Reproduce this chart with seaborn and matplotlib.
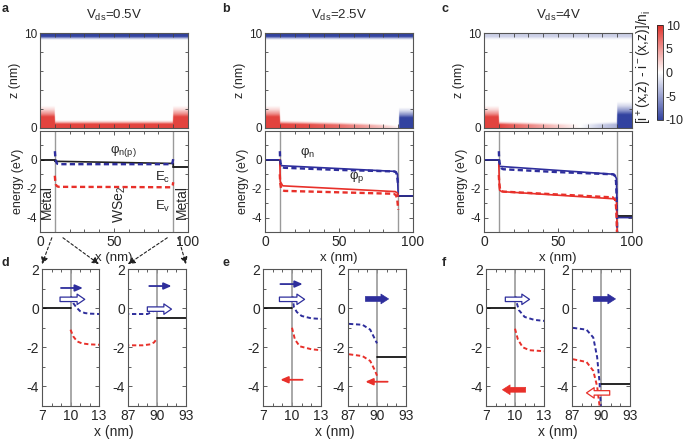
import numpy as np
import matplotlib
matplotlib.use("Agg")
import matplotlib.pyplot as plt
from matplotlib.colors import LinearSegmentedColormap
from matplotlib.patches import ConnectionPatch
from matplotlib.ticker import MultipleLocator
import seaborn as sns

sns.set_style("ticks")
plt.rcParams['font.family'] = ['Liberation Sans', 'DejaVu Sans']
plt.rcParams['mathtext.fontset'] = 'custom'
plt.rcParams['mathtext.rm'] = 'Liberation Sans'
plt.rcParams['mathtext.it'] = 'Liberation Sans:italic'
plt.rcParams['axes.unicode_minus'] = False

W, H = 685, 440
BLUE = '#2e2e9c'
RED = '#e8302a'
GRAY = '#9a9a9a'

# ---- heatmap (charge density) data: bottom layer along x, top layer constant
hm_x = [0, 9.9, 10.1, 30, 50, 65, 78, 89.9, 90.1, 100]
a_bot_amp = [9, 9, 9, 9, 9, 9, 9, 9, 9, 9]
a_bot_dep = [1.3, 1.3, 0.45, 0.45, 0.45, 0.45, 0.45, 0.45, 1.3, 1.3]
a_top_amp, a_top_dep = -10, 0.4
b_bot_amp = [9, 9, 9, 8.5, 7, 5, 3, 0.5, -10, -10]
b_bot_dep = [1.3, 1.3, 0.45, 0.4, 0.35, 0.3, 0.25, 0.15, 1.2, 1.2]
b_top_amp, b_top_dep = -10, 0.4
c_bot_amp = [9, 9, 9, 6, 2.5, 0, -2.5, -4, -10, -10]
c_bot_dep = [1.3, 1.3, 0.4, 0.35, 0.3, 0.3, 0.35, 0.4, 1.55, 1.55]
c_top_amp, c_top_dep = -2.5, 0.4
# fall-off shape of the layers (distance/depth -> weight)
fall_r = [0, 0.9, 1.15, 1.5, 1.8]
fall_w = [1, 1, 0.6, 0.2, 0]

# ---- energy band data (eV)
# panel a, Vds=0.5V
a_ec_x = [10.05, 10.3, 10.6, 11, 11.5, 12, 13, 50, 87, 89, 89.5, 89.8, 90]
a_ec_y = [0.6, 0.25, 0.05, -0.15, -0.25, -0.28, -0.3, -0.3, -0.3, -0.3, -0.2, -0.05, 0.05]
a_ev_x = [10, 10.3, 10.7, 11.2, 12, 13, 50, 87, 88.5, 89.3, 89.7, 90]
a_ev_y = [-1.1, -1.45, -1.7, -1.8, -1.85, -1.87, -1.88, -1.9, -1.9, -1.85, -1.75, -1.55]
a_phi_x = [10, 10, 90, 90]
a_phi_y = [0, -0.1, -0.25, -0.5]
a_metal_l, a_metal_r = 0.0, -0.5
# panel b, Vds=2.5V
b_ec_x = [10.05, 10.2, 10.5, 11, 12, 13, 50, 87, 88.5, 89.3, 89.7, 90]
b_ec_y = [0.6, 0.05, -0.2, -0.4, -0.52, -0.55, -0.7, -0.8, -0.85, -1.1, -1.5, -1.8]
b_ev_x = [10, 10.3, 10.8, 12, 13, 50, 87, 88.5, 89.3, 89.8, 90]
b_ev_y = [-1.0, -1.6, -1.95, -2.1, -2.15, -2.25, -2.35, -2.45, -2.7, -3.2, -3.45]
b_phin_x = [0, 10, 10.3, 88, 89.5, 90, 100]
b_phin_y = [0, 0, -0.4, -0.8, -1.0, -2.5, -2.5]
b_phip_x = [10, 10.3, 12, 88, 89.5, 90]
b_phip_y = [0, -1.5, -1.8, -2.2, -2.3, -2.5]
b_metal_l, b_metal_r = 0.0, -2.5
# panel c, Vds=4V
c_ec_x = [10.05, 10.1, 10.4, 11, 12, 13, 50, 87, 88.5, 89.2, 89.6, 89.85, 90]
c_ec_y = [0.6, 0.4, -0.1, -0.45, -0.6, -0.65, -0.85, -1.0, -1.1, -1.5, -2.5, -3.8, -5.2]
c_ev_x = [10, 10.3, 10.8, 11.5, 13, 50, 87, 88.5, 89.2, 89.6, 89.9]
c_ev_y = [-1.05, -1.6, -2.0, -2.15, -2.2, -2.4, -2.6, -2.75, -3.2, -4.0, -5.2]
c_phin_x = [0, 10, 10.3, 88, 89.5, 90, 100]
c_phin_y = [0, 0, -0.45, -1.0, -1.3, -4.0, -4.0]
c_phip_x = [10, 10.5, 12, 88, 89.5, 90]
c_phip_y = [-0.3, -2.1, -2.2, -2.7, -2.8, -5.2]
c_metal_l, c_metal_r = 0.0, -3.9

titles = [r'V$_{\rm ds}$=0.5V', r'V$_{\rm ds}$=2.5V', r'V$_{\rm ds}$=4V']

cmap = LinearSegmentedColormap.from_list('bwr2', ['#3343a0', '#ffffff', '#e0302a'])

fig = plt.figure(figsize=(W / 100, H / 100), dpi=100)


def px_axes(l, r, t, b):
    return fig.add_axes([l / W, 1 - b / H, (r - l) / W, (b - t) / H])


def style(ax):
    ax.tick_params(which='both', direction='in', top=True, right=True,
                   labelsize=8.5, width=0.6, color='#444', pad=2)
    ax.tick_params(which='major', length=3)
    ax.tick_params(which='minor', length=2)
    for s in ax.spines.values():
        s.set_color('#555')
        s.set_linewidth(0.8)


def field(bot_amp, bot_dep, top_amp, top_dep):
    xs = np.linspace(0, 100, 501)
    zs = np.linspace(0, 10, 301)
    amp = np.interp(xs, hm_x, bot_amp)
    dep = np.interp(xs, hm_x, bot_dep)
    bot = amp[None, :] * np.interp(zs[:, None] / dep[None, :], fall_r, fall_w)
    top = top_amp * np.interp((10 - zs) / top_dep, fall_r, fall_w)[:, None]
    return np.clip(bot + top, -10, 10)


def line(ax, x, y, color, dashed=False, lw=1.3):
    sns.lineplot(x=x, y=y, ax=ax, color=color, sort=False, estimator=None,
                 lw=lw, legend=False)
    if dashed:
        ax.lines[-1].set_dashes([2.2, 1.4])


def arrow(ax, x0, x1, y, color, kind):
    if kind == 'thin':
        props = dict(arrowstyle='-|>,head_length=0.45,head_width=0.2', color=color, lw=1.3)
    elif kind == 'hollow':
        props = dict(arrowstyle='simple,head_length=0.55,head_width=0.75,tail_width=0.32',
                     fc='white', ec=color, lw=0.9)
    else:
        props = dict(arrowstyle='simple,head_length=0.55,head_width=0.7,tail_width=0.35',
                     fc=color, ec=color, lw=0.5)
    props.update(shrinkA=0, shrinkB=0, mutation_scale=10)
    ax.annotate('', xy=(x1, y), xytext=(x0, y), arrowprops=props)


hm_cols = [(40, 188), (265, 413), (484, 632)]
fields = [field(a_bot_amp, a_bot_dep, a_top_amp, a_top_dep),
          field(b_bot_amp, b_bot_dep, b_top_amp, b_top_dep),
          field(c_bot_amp, c_bot_dep, c_top_amp, c_top_dep)]
bands = [
    (a_ec_x, a_ec_y, a_ev_x, a_ev_y, a_metal_l, a_metal_r),
    (b_ec_x, b_ec_y, b_ev_x, b_ev_y, b_metal_l, b_metal_r),
    (c_ec_x, c_ec_y, c_ev_x, c_ev_y, c_metal_l, c_metal_r),
]
zoom_cols = [((42, 99), (128, 186)), ((263, 321), (348, 406)), ((486, 544), (572, 630))]
letters_top = ['a', 'b', 'c']
letters_bot = ['d', 'e', 'f']
letter_x = [2, 222, 442]

energy_axes = []
zoom_axes = []
for i in range(3):
    l, r = hm_cols[i]
    # heatmap
    axh = px_axes(l, r, 33, 128)
    im = axh.imshow(fields[i], extent=[0, 100, 0, 10], origin='lower', aspect='auto',
                    cmap=cmap, vmin=-10, vmax=10, interpolation='bilinear')
    axh.set_xlim(0, 100)
    axh.set_ylim(0, 10)
    axh.set_xticks(np.arange(0, 101, 10))
    axh.set_xticklabels([])
    axh.set_yticks([0, 10])
    axh.yaxis.set_minor_locator(MultipleLocator(2))
    axh.set_ylabel('z (nm)', fontsize=9, labelpad=2)
    style(axh)
    axh.set_title(titles[i], fontsize=9.5, pad=10)
    fig.text(letter_x[i] / W, 1 - 12 / H, letters_top[i], fontsize=9, fontweight='bold')

    # energy overview
    axe = px_axes(l, r, 131, 232)
    ec_x, ec_y, ev_x, ev_y, ml, mr = bands[i]
    for xv in (10, 90):
        axe.axvline(xv, color=GRAY, lw=1)
    line(axe, [0, 10], [ml, ml], 'black', lw=1.2)
    line(axe, [90, 100], [mr, mr], 'black', lw=1.2)
    if i == 0:
        line(axe, a_phi_x, a_phi_y, '#222', lw=1.2)
    elif i == 1:
        line(axe, b_phin_x, b_phin_y, BLUE, lw=1.2)
        line(axe, b_phip_x, b_phip_y, RED, lw=1.2)
    else:
        line(axe, c_phin_x, c_phin_y, BLUE, lw=1.2)
        line(axe, c_phip_x, c_phip_y, RED, lw=1.2)
    line(axe, ec_x, ec_y, BLUE, dashed=True, lw=1.7)
    line(axe, ev_x, ev_y, RED, dashed=True, lw=1.7)
    axe.set_xlim(0, 100)
    axe.set_ylim(-5, 2)
    axe.set_xticks([0, 50, 100])
    axe.xaxis.set_minor_locator(MultipleLocator(10))
    axe.set_yticks([-4, -2, 0, 2])
    axe.set_yticklabels(['-4', '-2', '0', ''])
    axe.yaxis.set_minor_locator(MultipleLocator(1))
    axe.set_xlabel('x (nm)', fontsize=9.5, labelpad=2)
    axe.set_ylabel('energy (eV)', fontsize=9, labelpad=2)
    style(axe)
    axe.tick_params(axis='x', labelsize=10)
    energy_axes.append(axe)

    # zoom panels
    pair = []
    for j, (zl, zr) in enumerate(zoom_cols[i]):
        axz = px_axes(zl, zr, 269, 406)
        x0 = 7 if j == 0 else 87
        axz.axvline(x0 + 3, color=GRAY, lw=1.2)
        if j == 0:
            line(axz, [7, 10], [ml, ml], 'black', lw=1.2)
        else:
            line(axz, [90, 93], [mr, mr], 'black', lw=1.2)
        line(axz, ec_x, ec_y, BLUE, dashed=True, lw=1.4)
        line(axz, ev_x, ev_y, RED, dashed=True, lw=1.4)
        axz.set_xlim(x0, x0 + 6)
        axz.set_ylim(-5, 2)
        axz.set_xticks([x0, x0 + 3, x0 + 6])
        axz.xaxis.set_minor_locator(MultipleLocator(1))
        axz.set_yticks([-4, -2, 0, 2])
        axz.yaxis.set_minor_locator(MultipleLocator(1))
        style(axz)
        axz.tick_params(labelsize=10)
        pair.append(axz)
    zoom_axes.append(pair)
    cx = (zoom_cols[i][0][0] + zoom_cols[i][1][1]) / 2
    fig.text(cx / W, 1 - 432 / H, 'x (nm)', fontsize=10, ha='center', va='center')
    fig.text(letter_x[i] / W, 1 - 266 / H, letters_bot[i], fontsize=9, fontweight='bold')

# colorbar
cax = px_axes(657, 663, 25, 120)
cb = fig.colorbar(im, cax=cax, ticks=[-10, -5, 0, 5, 10])
cb.outline.set_linewidth(0.6)
cax.tick_params(labelsize=9, length=0, pad=2)
fig.text(645 / W, 1 - 67 / H, r'[i$^+$(x,z) - i$^-$(x,z)]/n$_{\rm i}$', rotation=90,
         fontsize=10, ha='center', va='center')

# text labels in the energy panels
ea, eb, ec = energy_axes
ea.text(4.5, -2.9, 'Metal', rotation=90, ha='center', va='center', fontsize=10)
ea.text(96, -2.9, 'Metal', rotation=90, ha='center', va='center', fontsize=10)
ea.text(54, -3.1, r'WSe$_2$', rotation=90, ha='center', va='center', fontsize=10)
ea.text(56, 0.6, r'φ$_{\rm n(p)}$', ha='center', va='center', fontsize=9.5)
ea.text(83, -1.25, r'E$_{\rm c}$', ha='center', va='center', fontsize=9.5)
ea.text(83, -3.2, r'E$_{\rm v}$', ha='center', va='center', fontsize=9.5)
eb.text(29, 0.5, r'φ$_{\rm n}$', ha='center', va='center', fontsize=9.5)
eb.text(62, -1.25, r'φ$_{\rm p}$', ha='center', va='center', fontsize=9.5)

# carrier flow arrows
(dL, dR), (eL, eR), (fL, fR) = zoom_axes
arrow(dL, 9.0, 11.3, 1.03, BLUE, 'thin')
arrow(dL, 8.9, 11.5, 0.45, BLUE, 'hollow')
arrow(dR, 89.2, 91.5, 1.13, BLUE, 'thin')
arrow(dR, 89.0, 91.5, -0.05, BLUE, 'hollow')
arrow(eL, 8.8, 11.1, 1.23, BLUE, 'thin')
arrow(eL, 8.7, 11.3, 0.45, BLUE, 'hollow')
arrow(eL, 11.1, 8.8, -3.66, RED, 'thin')
arrow(eR, 88.8, 91.2, 0.47, BLUE, 'thick')
arrow(eR, 91.1, 88.8, -3.76, RED, 'thin')
arrow(fL, 9.0, 11.5, 0.45, BLUE, 'hollow')
arrow(fL, 11.1, 8.7, -4.17, RED, 'thick')
arrow(fR, 89.2, 91.5, 0.47, BLUE, 'thick')
arrow(fR, 90.9, 88.5, -4.33, RED, 'hollow')

# dashed zoom guides from panel a to panel d
for xa, xb, axb in [(8, 7, dL), (15.5, 13, dL), (86, 87, dR), (93.5, 93, dR)]:
    cp = ConnectionPatch(xyA=(xa, -5.4), coordsA=ea.transData, xyB=(xb, 2.25),
                         coordsB=axb.transData, arrowstyle='-|>,head_length=0.5,head_width=0.25',
                         linestyle=(0, (2.5, 2)), color='#222', lw=0.8, mutation_scale=8)
    fig.add_artist(cp)

fig.savefig('out.png', dpi=100)
